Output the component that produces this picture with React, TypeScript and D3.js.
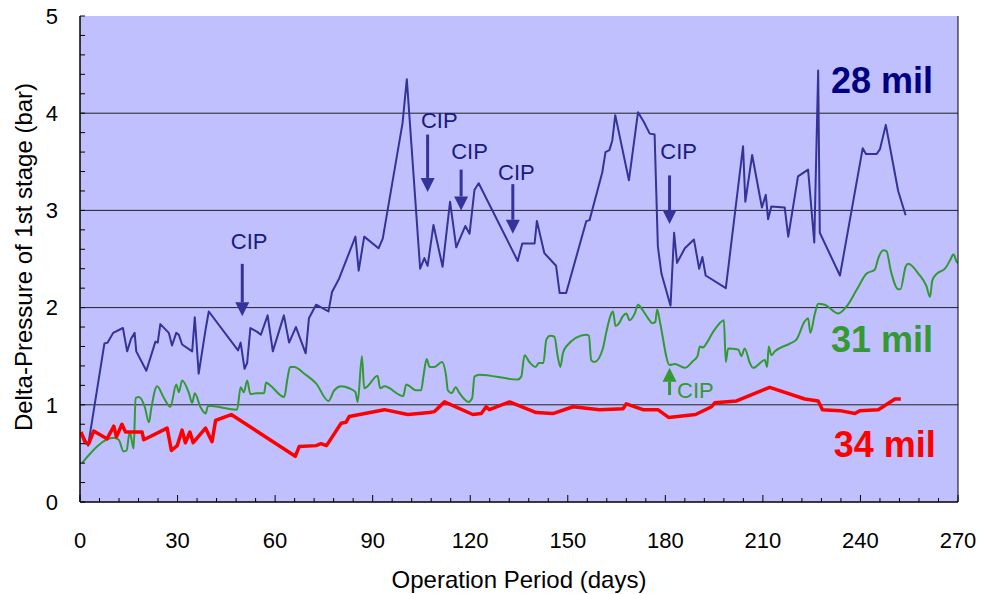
import { useMemo } from "react";
import * as d3 from "d3";

const WIDTH = 981;
const HEIGHT = 594;
const MARGIN = { top: 16, right: 23, bottom: 92, left: 80 };
const FONT = "'Liberation Sans', Arial, sans-serif";

const X_TICKS = [0, 30, 60, 90, 120, 150, 180, 210, 240, 270];
const Y_TICKS = [0, 1, 2, 3, 4, 5];
const GRID_VALUES = [1, 2, 3, 4];

// 28 mil spacer (blue)
const DAYS_28 = [1, 2.5, 7.5, 8.5, 10.2, 13.2, 14.5, 15.7, 16.8, 17.3, 20.4, 23.2, 23.9, 24.7, 27.3, 28.3, 29.6, 30.4, 31.4, 34.5, 35.3, 36.5, 38.6, 39.6, 48.6, 49.4, 50.6, 51.4, 52.4, 54.5, 55.6, 57.7, 59.3, 62.7, 64.3, 66.4, 69.4, 70.4, 72.6, 76.4, 77.5, 79.7, 84.7, 85.7, 87.4, 91.8, 93.1, 99.2, 100.5, 104.6, 105.9, 106.9, 108.7, 111.5, 113.8, 115.7, 118.5, 119.8, 121.3, 122.6, 134.6, 136, 139.8, 140.5, 142.8, 146.4, 147.5, 149.5, 155.7, 156.7, 160.6, 161.6, 162.8, 163.7, 164.6, 168.8, 171.6, 173.4, 175.2, 176.7, 177.7, 178.8, 181.6, 182.7, 183.6, 186, 188.8, 190.4, 191.4, 192.4, 198.6, 203.9, 204.6, 206.7, 209.7, 210.9, 211.6, 212.6, 216.7, 217.8, 220.8, 223.9, 225.8, 227, 227.5, 233.7, 240.7, 241.7, 245, 246, 247.8, 251.6, 253.9];
const DP_28 = [0.68, 0.58, 1.63, 1.64, 1.74, 1.79, 1.55, 1.68, 1.74, 1.55, 1.35, 1.65, 1.64, 1.83, 1.74, 1.61, 1.74, 1.72, 1.62, 1.55, 1.9, 1.32, 1.77, 1.96, 1.56, 1.64, 1.37, 1.43, 1.79, 1.75, 1.72, 1.92, 1.55, 1.92, 1.64, 1.8, 1.53, 1.89, 2.03, 1.96, 2.16, 2.3, 2.73, 2.38, 2.73, 2.61, 2.71, 3.9, 4.35, 2.4, 2.51, 2.43, 2.85, 2.42, 3.09, 2.62, 2.84, 2.76, 3.21, 3.28, 2.48, 2.66, 2.66, 2.89, 2.56, 2.43, 2.15, 2.15, 2.89, 2.9, 3.39, 3.6, 3.62, 3.72, 3.98, 3.31, 4.01, 3.91, 3.79, 3.78, 2.63, 2.35, 2.02, 2.77, 2.46, 2.61, 2.7, 2.4, 2.52, 2.33, 2.2, 3.66, 3.09, 3.57, 3.03, 3.16, 2.91, 3.04, 3.03, 2.73, 3.35, 3.42, 2.67, 4.44, 2.77, 2.33, 3.64, 3.58, 3.58, 3.63, 3.88, 3.2, 2.95];

// 31 mil spacer (green)
const DAYS_31 = [0.6, 10.4, 11.9, 13.4, 14.3, 15.3, 16.5, 17.1, 18.1, 19.9, 21.2, 21.9, 23.7, 25.8, 27.8, 29.6, 30.4, 31.4, 33.5, 34.5, 35.3, 37, 38.6, 39.4, 48.3, 49.4, 50.4, 51.4, 52.4, 54.5, 56.6, 57.2, 58.5, 62.8, 63.8, 64.6, 65.9, 69, 72.6, 76.4, 78.2, 80.3, 82.8, 84.7, 85.4, 86.7, 87.4, 88.4, 91.5, 92.3, 93.6, 99.4, 100.3, 103.3, 104.9, 105.6, 106.6, 107.5, 109, 111.3, 112.6, 113.1, 114.3, 115.5, 116.7, 119.5, 120.6, 121.3, 122.8, 134.6, 135.7, 136.7, 138.2, 140.1, 141.1, 142.5, 143.4, 144.6, 145.9, 146.9, 147.7, 148.5, 149.5, 155.7, 156.5, 157.2, 158.2, 160.8, 161.8, 163.4, 163.9, 164.7, 165.8, 166.9, 168, 169, 170.6, 171.6, 173.1, 174.7, 176, 176.9, 177.5, 178.3, 181.3, 182.9, 186, 188.5, 189.9, 190.6, 191.6, 192.4, 194.7, 196.7, 198, 198.6, 199.3, 202.4, 203.4, 204.4, 206, 207, 210.6, 211.3, 211.8, 212.6, 213.7, 218.3, 220.3, 222.9, 223.9, 224.6, 226, 227, 229, 233.2, 235.7, 238.8, 241.9, 244.4, 245.5, 247, 248, 249.4, 251.6, 252.3, 253.9, 254.7, 257.8, 260.3, 261.4, 262.1, 263.5, 266, 267.6, 268.6, 269.6, 270];
const DP_31 = [0.4, 0.66, 0.64, 0.52, 0.53, 0.72, 0.55, 1.07, 1.08, 0.98, 0.82, 0.96, 1.19, 1.07, 0.98, 1.21, 1.13, 1.25, 1.12, 1.02, 1.12, 0.98, 0.91, 0.99, 0.95, 1.18, 1.13, 1.25, 1.11, 1.12, 1.12, 1.23, 1.2, 1.08, 1.27, 1.39, 1.39, 1.32, 1.22, 1.04, 1.15, 1.19, 1.17, 1.13, 1.03, 1.5, 1.17, 1.19, 1.3, 1.17, 1.19, 1.09, 1.21, 1.15, 1.15, 1.29, 1.47, 1.39, 1.39, 1.44, 1.29, 1.15, 1.12, 1.18, 1.12, 1.03, 1.07, 1.29, 1.31, 1.26, 1.29, 1.51, 1.44, 1.39, 1.43, 1.43, 1.67, 1.71, 1.7, 1.5, 1.39, 1.53, 1.6, 1.72, 1.71, 1.46, 1.44, 1.58, 1.74, 1.94, 1.96, 1.81, 1.84, 1.91, 1.94, 1.87, 1.94, 2.03, 1.97, 1.89, 1.84, 1.85, 1.98, 1.86, 1.41, 1.42, 1.38, 1.45, 1.5, 1.6, 1.59, 1.62, 1.75, 1.84, 1.87, 1.44, 1.58, 1.57, 1.5, 1.58, 1.43, 1.38, 1.46, 1.39, 1.6, 1.51, 1.55, 1.63, 1.67, 1.86, 1.89, 1.74, 1.94, 2.04, 2.03, 1.94, 2.01, 2.18, 2.35, 2.39, 2.51, 2.59, 2.58, 2.37, 2.19, 2.19, 2.42, 2.45, 2.35, 2.22, 2.11, 2.28, 2.35, 2.4, 2.49, 2.55, 2.47, 2.46];

// 34 mil spacer (red)
const DAYS_34 = [0.3, 1.6, 2.7, 4.2, 8.3, 10.4, 11.2, 12.9, 14, 19.1, 19.6, 26.8, 28.1, 29.9, 31.4, 32.4, 33.8, 34.8, 38.6, 40.6, 41.7, 46.5, 66.2, 67.4, 72.6, 74.1, 75.8, 80.3, 81.8, 82.8, 93.6, 100.8, 107.5, 109, 112.1, 120.8, 123.4, 124.9, 125.9, 132.1, 140.3, 145.4, 151.6, 159.8, 167, 168, 173.1, 177.7, 181, 189.3, 194.2, 195.2, 201.9, 212.1, 222.9, 227, 228.3, 233.7, 238.3, 239.8, 245.5, 250.6, 252.4];
const DP_34 = [0.72, 0.61, 0.6, 0.73, 0.65, 0.78, 0.67, 0.8, 0.72, 0.72, 0.64, 0.76, 0.53, 0.58, 0.74, 0.61, 0.72, 0.61, 0.76, 0.62, 0.84, 0.9, 0.47, 0.57, 0.58, 0.6, 0.58, 0.81, 0.82, 0.88, 0.95, 0.9, 0.92, 0.93, 1.03, 0.9, 0.91, 0.98, 0.95, 1.03, 0.92, 0.91, 0.98, 0.95, 0.96, 1.01, 0.95, 0.95, 0.87, 0.9, 0.98, 1.02, 1.04, 1.18, 1.06, 1.04, 0.95, 0.94, 0.91, 0.94, 0.95, 1.06, 1.06];

// CIP (cleaning in place) events: arrow day, arrow start value, arrow tip value, label day, label baseline
const CIP_DAYS = [49.9, 106.9, 117.2, 133.1, 181.3];
const CIP_FROM = [2.45, 3.78, 3.42, 3.27, 3.36];
const CIP_TO = [1.91, 3.19, 3.0, 2.76, 2.86];
const CIP_LABEL_DAYS = [52.0, 110.5, 119.8, 134.2, 184.1];
const CIP_LABEL_VALUES = [2.6, 3.85, 3.53, 3.31, 3.53];
const CIP_31 = { day: 181.3, from: 1.1, to: 1.38, labelDay: 183.6, labelValue: 1.07 };

const SERIES = [
  { name: "28 mil", days: DAYS_28, values: DP_28, color: "#333399", width: 2, label: "#000080", labelDay: 262.3, labelValue: 4.21 },
  { name: "31 mil", days: DAYS_31, values: DP_31, color: "#339933", width: 2, label: "#339933", labelDay: 262.3, labelValue: 1.54 },
  { name: "34 mil", days: DAYS_34, values: DP_34, color: "#ff0000", width: 3.5, label: "#ff0000", labelDay: 263.2, labelValue: 0.46 },
];

const Arrow = ({ x, y1, y2, color }: { x: number; y1: number; y2: number; color: string }) => {
  const dir = y2 > y1 ? 1 : -1;
  const head = 14;
  return (
    <g>
      <line x1={x} x2={x} y1={y1} y2={y2 - dir * head} stroke={color} strokeWidth={3} />
      <polygon points={`${x - 7},${y2 - dir * head} ${x + 7},${y2 - dir * head} ${x},${y2}`} fill={color} />
    </g>
  );
};

const App = () => {
  const boundsWidth = WIDTH - MARGIN.left - MARGIN.right;
  const boundsHeight = HEIGHT - MARGIN.top - MARGIN.bottom;

  const xScale = useMemo(() => d3.scaleLinear().domain([0, 270]).range([0, boundsWidth]), [boundsWidth]);
  const yScale = useMemo(() => d3.scaleLinear().domain([0, 5]).range([boundsHeight, 0]), [boundsHeight]);

  const paths = SERIES.map((s, i) => {
    const pts: [number, number][] = s.days.map((d, j) => [d, s.values[j]]);
    const gen = d3
      .line<[number, number]>()
      .x((p) => xScale(p[0]))
      .y((p) => yScale(p[1]))
      .curve(i === 1 ? d3.curveMonotoneX : d3.curveLinear);
    return gen(pts) || "";
  });

  const minorX = d3.range(0, 271, 6);
  const minorY = d3.range(0, 5.01, 0.2);

  return (
    <svg width={WIDTH} height={HEIGHT} style={{ position: "absolute", left: 0, top: 0, background: "#fff" }} fontFamily={FONT}>
      <g transform={`translate(${MARGIN.left},${MARGIN.top})`}>
        <rect x={0} y={0} width={boundsWidth} height={boundsHeight} fill="#c0c0ff" />
        {GRID_VALUES.map((v) => (
          <line key={v} x1={0} x2={boundsWidth} y1={yScale(v)} y2={yScale(v)} stroke="#222" strokeWidth={1} />
        ))}
        <clipPath id="plot">
          <rect x={0} y={0} width={boundsWidth} height={boundsHeight} />
        </clipPath>
        <g clipPath="url(#plot)">
          {paths.map((d, i) => (
            <path key={i} d={d} fill="none" stroke={SERIES[i].color} strokeWidth={SERIES[i].width} strokeLinejoin="round" />
          ))}
        </g>
        {/* axes */}
        <line x1={0} x2={0} y1={0} y2={boundsHeight} stroke="#000" strokeWidth={1.5} />
        <line x1={0} x2={boundsWidth} y1={boundsHeight} y2={boundsHeight} stroke="#000" strokeWidth={1.5} />
        <line x1={boundsWidth} x2={boundsWidth} y1={0} y2={boundsHeight} stroke="#000" strokeWidth={1} />
        {minorY.map((v, i) => (
          <line key={"my" + i} x1={0} x2={5} y1={yScale(v)} y2={yScale(v)} stroke="#000" strokeWidth={1} />
        ))}
        {minorX.map((d) => (
          <line key={"mx" + d} x1={xScale(d)} x2={xScale(d)} y1={boundsHeight} y2={boundsHeight - (d % 30 === 0 ? 7 : 4)} stroke="#000" strokeWidth={1} />
        ))}
        {Y_TICKS.map((v) => (
          <text key={"yt" + v} x={-22} y={yScale(v)} dy="0.35em" textAnchor="end" fontSize={22} fill="#000">
            {v}
          </text>
        ))}
        {X_TICKS.map((d) => (
          <text key={"xt" + d} x={xScale(d)} y={boundsHeight + 38} dy="0.35em" textAnchor="middle" fontSize={22} fill="#000">
            {d}
          </text>
        ))}
        <text x={boundsWidth / 2} y={boundsHeight + 86} textAnchor="middle" fontSize={24} fill="#000">
          Operation Period (days)
        </text>
        <text transform={`translate(${-48},${boundsHeight / 2 - 2}) rotate(-90)`} textAnchor="middle" fontSize={24} fill="#000">
          Delta-Pressure of 1st stage (bar)
        </text>

        {/* CIP annotations */}
        {CIP_DAYS.map((d, i) => (
          <g key={"cip" + i}>
            <Arrow x={xScale(d)} y1={yScale(CIP_FROM[i])} y2={yScale(CIP_TO[i])} color="#333399" />
            <text x={xScale(CIP_LABEL_DAYS[i])} y={yScale(CIP_LABEL_VALUES[i])} textAnchor="middle" fontSize={22} fill="#1a1a80">
              CIP
            </text>
          </g>
        ))}
        <Arrow x={xScale(CIP_31.day)} y1={yScale(CIP_31.from)} y2={yScale(CIP_31.to)} color="#339933" />
        <text x={xScale(CIP_31.labelDay)} y={yScale(CIP_31.labelValue)} fontSize={22} fill="#339933">
          CIP
        </text>

        {SERIES.map((s) => (
          <text key={s.name} x={xScale(s.labelDay)} y={yScale(s.labelValue)} textAnchor="end" fontSize={36} fontWeight="bold" fill={s.label}>
            {s.name}
          </text>
        ))}
      </g>
    </svg>
  );
};

export default App;
